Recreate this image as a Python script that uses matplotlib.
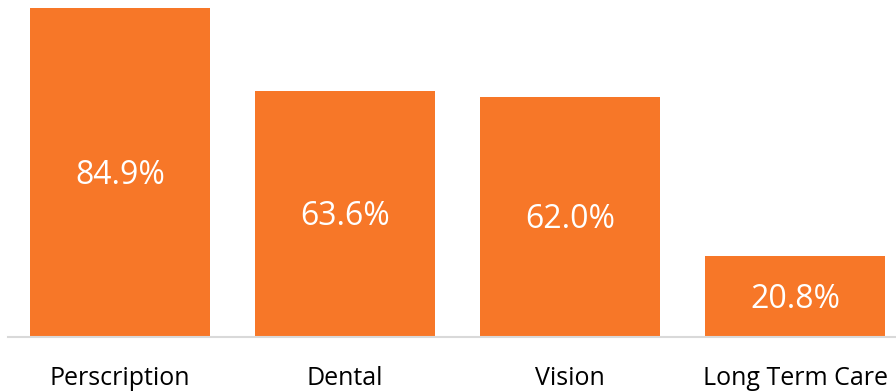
import matplotlib
matplotlib.use("Agg")
import matplotlib.pyplot as plt
from matplotlib.transforms import offset_copy

categories = ["Perscription", "Dental", "Vision", "Long Term Care"]
values = [84.9, 63.6, 62.0, 20.8]

bar_color = "#F77728"

plt.rcParams["font.family"] = ["Open Sans", "DejaVu Sans"]

fig = plt.figure(figsize=(8.96, 3.91), dpi=100)
ax = fig.add_axes([7.5 / 896, 54 / 391, 900 / 896, 329 / 391])

x = range(len(categories))
bars = ax.bar(x, values, width=0.8, color=bar_color)

label_tf = offset_copy(ax.transData, fig=fig, x=0, y=-3, units="dots")
for xi, v in zip(x, values):
    ax.text(xi, v / 2, f"{v:.1f}%", ha="center", va="center",
            color="white", fontsize=23, transform=label_tf)

ax.set_xlim(-0.5, len(categories) - 0.5)
ax.set_ylim(0, max(values))
ax.set_xticks(list(x))
ax.set_xticklabels(categories, fontsize=18, color="black")
ax.tick_params(axis="x", length=0, pad=21)
ax.set_yticks([])

for side in ("top", "right", "left"):
    ax.spines[side].set_visible(False)
ax.spines["bottom"].set_color("#D9D9D9")
ax.spines["bottom"].set_linewidth(1.5)

fig.savefig("out.png", dpi=100)
